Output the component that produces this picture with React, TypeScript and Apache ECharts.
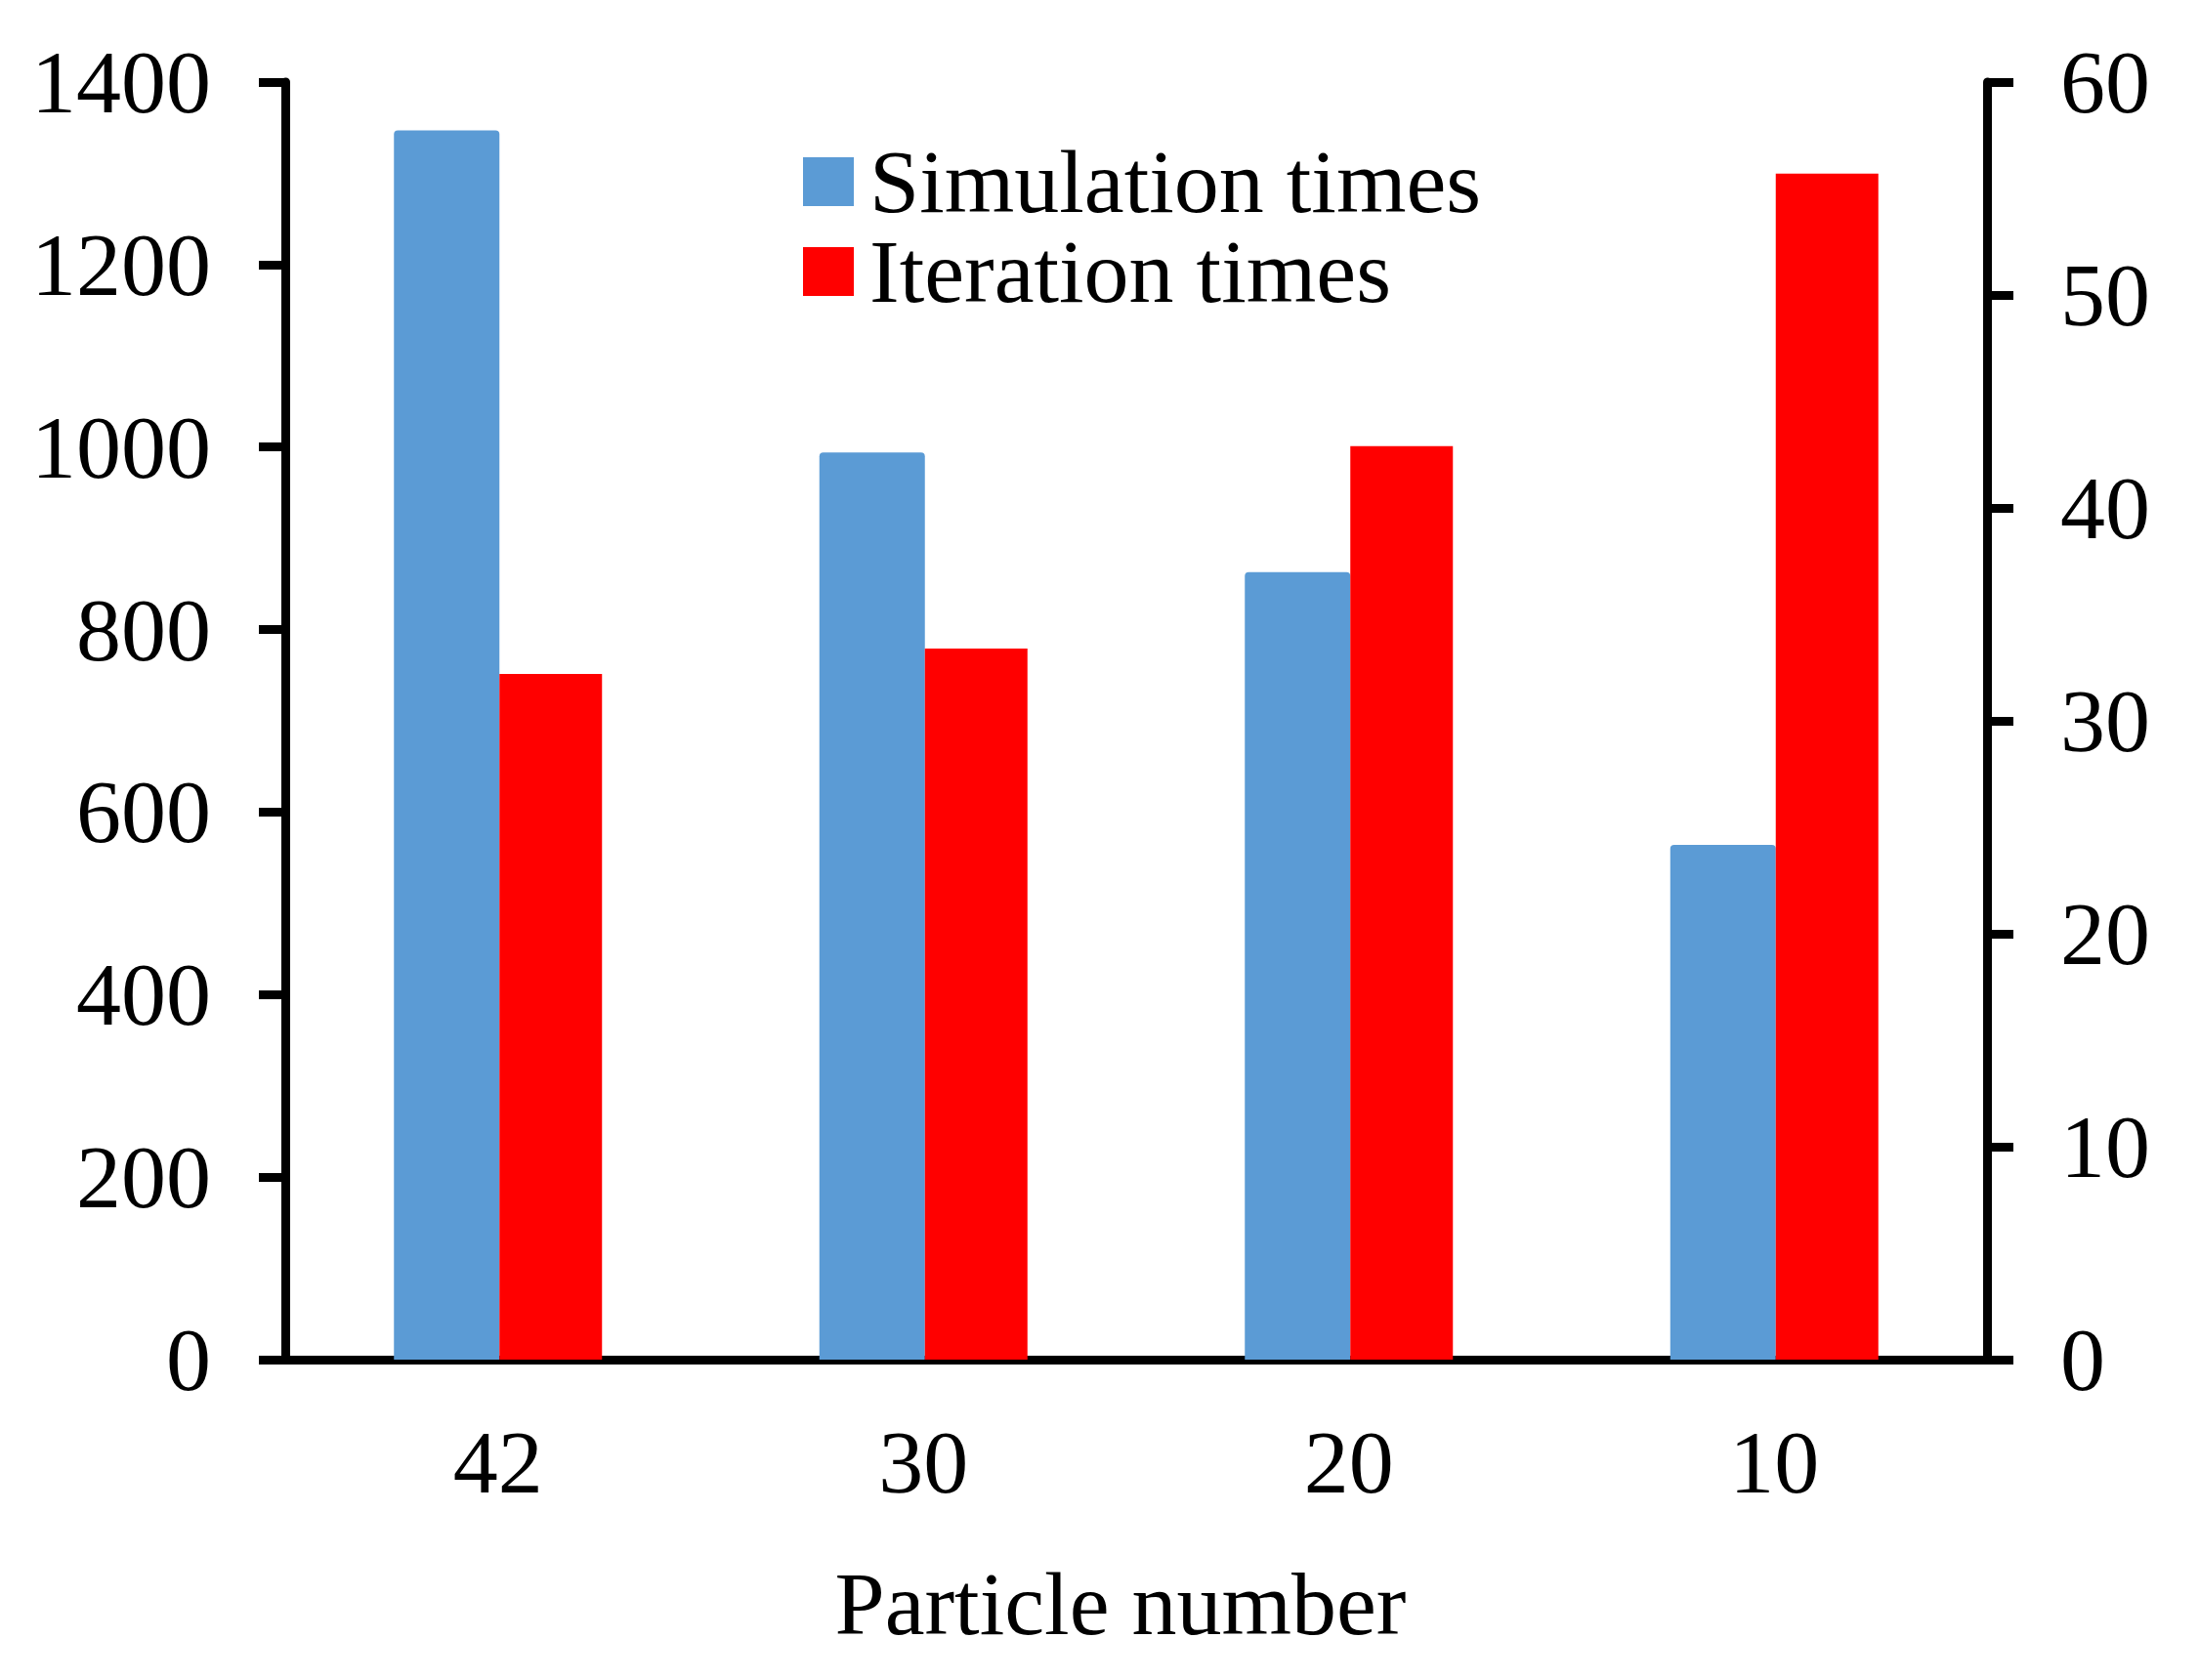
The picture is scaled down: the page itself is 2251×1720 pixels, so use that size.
import { useEffect, useRef } from "react";
import * as echarts from "echarts";

const particleNumbers = ["42", "30", "20", "10"];
const simulationTimes = [1347, 994, 863, 564];
const iterationTimes = [32.2, 33.4, 42.9, 55.7];

const FONT = "'Liberation Serif', 'Times New Roman', serif";

export default function App() {
  const ref = useRef<HTMLDivElement>(null);

  useEffect(() => {
    if (!ref.current) return;
    const chart = echarts.init(ref.current, undefined, { renderer: "svg" });

    const axisLine = { show: true, lineStyle: { color: "#000", width: 9 } };
    const axisTick = { show: true, length: 27, lineStyle: { color: "#000", width: 9 } };
    const plain = (v: number) => String(v);

    chart.setOption({
      animation: false,
      backgroundColor: "#fff",
      textStyle: { fontFamily: FONT },
      grid: { left: 292, right: 217, top: 84, bottom: 328, containLabel: false },
      legend: {
        orient: "vertical",
        left: 822,
        top: 140,
        padding: 0,
        itemWidth: 52,
        itemHeight: 50,
        itemGap: 0,
        icon: "rect",
        textStyle: {
          fontFamily: FONT,
          fontSize: 92,
          color: "#000",
          padding: [0, 0, 0, 11],
        },
        data: ["Simulation times", "Iteration times"],
      },
      xAxis: {
        type: "category",
        data: particleNumbers,
        name: "Particle number",
        nameLocation: "middle",
        nameGap: 204,
        nameTextStyle: { fontFamily: FONT, fontSize: 92, color: "#000", padding: [0, 32, 0, 0] },
        axisLine,
        axisTick: { show: false },
        axisLabel: { fontFamily: FONT, fontSize: 92, color: "#000", margin: 59 },
        splitLine: { show: false },
      },
      yAxis: [
        {
          type: "value",
          min: 0,
          max: 1400,
          interval: 200,
          position: "left",
          axisLine,
          axisTick,
          axisLabel: { fontFamily: FONT, fontSize: 92, color: "#000", margin: 76, formatter: plain },
          splitLine: { show: false },
        },
        {
          type: "value",
          min: 0,
          max: 60,
          interval: 10,
          position: "right",
          axisLine,
          axisTick,
          axisLabel: { fontFamily: FONT, fontSize: 92, color: "#000", margin: 75, formatter: plain },
          splitLine: { show: false },
        },
      ],
      series: [
        {
          name: "Simulation times",
          type: "bar",
          yAxisIndex: 0,
          barWidth: 108,
          barGap: "0%",
          itemStyle: { color: "#5B9BD5", borderRadius: [4, 4, 0, 0] },
          data: simulationTimes,
        },
        {
          name: "Iteration times",
          type: "bar",
          yAxisIndex: 1,
          barWidth: 105,
          barGap: "0%",
          itemStyle: { color: "#FF0000" },
          data: iterationTimes,
        },
      ],
    });

    return () => {
      chart.dispose();
    };
  }, []);

  return (
    <div
      ref={ref}
      style={{ position: "fixed", left: 0, top: 0, width: 2251, height: 1720, background: "#fff" }}
    />
  );
}
